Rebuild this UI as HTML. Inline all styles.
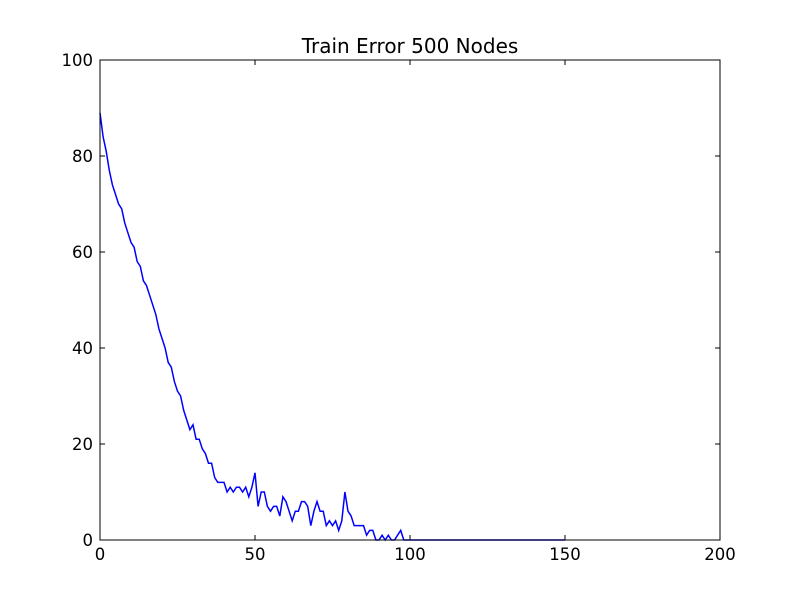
<!DOCTYPE html>
<html><head><meta charset="utf-8"><style>
body{margin:0;background:#fff;}
svg text{font-family:"DejaVu Sans","Liberation Sans",sans-serif;}
</style></head><body>
<svg id="chart" width="800" height="600" xmlns="http://www.w3.org/2000/svg">
<rect width="800" height="600" fill="#fff"/>
<text x="410" y="53" font-size="20" text-anchor="middle">Train Error 500 Nodes</text>
<g id="ticks"></g>
<polyline id="line" fill="none" stroke="#0000ff" stroke-width="1.5"/>
<rect x="100" y="60" width="620" height="480" fill="none" stroke="#000" stroke-width="1"/>
</svg>
<script>
const errors=[89,84,81,77,74,72,70,69,66,64,62,61,58,57,54,53,51,49,47,44,42,40,37,36,33,31,30,27,25,23,24,21,21,19,18,16,16,13,12,12,12,10,11,10,11,11,10,11,9,11,14,7,10,10,7,6,7,7,5,9,8,6,4,6,6,8,8,7,3,6,8,6,6,3,4,3,4,2,4,10,6,5,3,3,3,3,1,2,2,0,0,1,0,1,0,0,1,2,0,0,0,0,0,0,0,0,0,0,0,0,0,0,0,0,0,0,0,0,0,0,0,0,0,0,0,0,0,0,0,0,0,0,0,0,0,0,0,0,0,0,0,0,0,0,0,0,0,0,0,0,0];
const xTicks=[0,50,100,150,200];
const yTicks=[0,20,40,60,80,100];
const X=v=>100+v*620/200, Y=v=>540-v*480/100;
document.getElementById('line').setAttribute('points',errors.map((e,i)=>X(i)+','+Y(e)).join(' '));
const g=document.getElementById('ticks'),ns='http://www.w3.org/2000/svg';
function mk(t,a){const e=document.createElementNS(ns,t);for(const k in a)e.setAttribute(k,a[k]);g.appendChild(e);return e;}
xTicks.forEach(v=>{
  const l1=mk('line',{x1:X(v),x2:X(v),y1:540,y2:535,stroke:'#000'});
  
  
  const l2=mk('line',{x1:X(v),x2:X(v),y1:60,y2:65,stroke:'#000'});
  
  
  const t=mk('text',{x:X(v),y:560,'font-size':'16.5','text-anchor':'middle'});t.textContent=v;
  
  
});
yTicks.forEach(v=>{
  const l1=mk('line',{x1:100,x2:105,y1:Y(v),y2:Y(v),stroke:'#000'});
  
  
  const l2=mk('line',{x1:715,x2:720,y1:Y(v),y2:Y(v),stroke:'#000'});
  
  
  const t=mk('text',{x:93,y:Y(v)+6,'font-size':'16.5','text-anchor':'end'});t.textContent=v;
  
  
});
</script>
</body></html>
